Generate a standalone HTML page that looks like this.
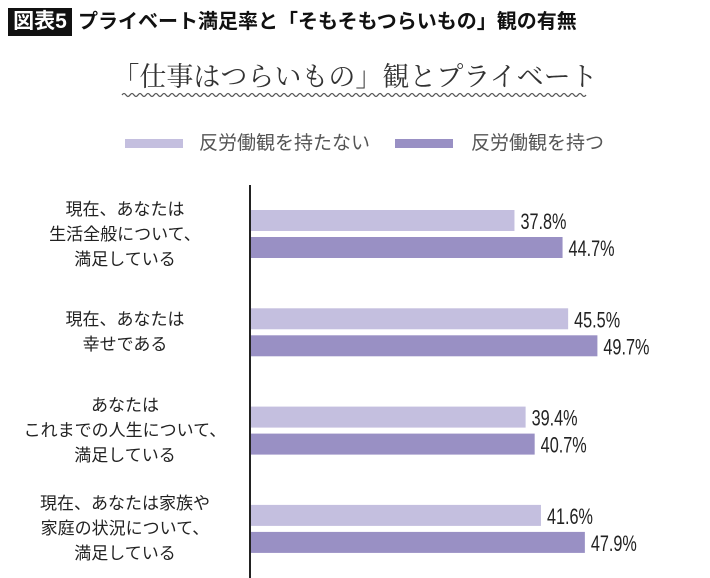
<!DOCTYPE html>
<html><head><meta charset="utf-8"><style>
body{margin:0;background:#fff;width:710px;height:578px;overflow:hidden;position:relative;font-family:"Liberation Sans","Noto Sans CJK JP",sans-serif}
.abs{position:absolute;white-space:nowrap}
</style></head><body>
<div class="abs" style="left:8px;top:8px;width:64px;height:28px;background:#111;color:#fff;font-size:21px;font-weight:bold;line-height:28px;text-align:center">図表5</div>
<div class="abs" style="left:78px;top:8px;font-size:20px;font-weight:bold;line-height:28px;color:#111">プライベート満足率と「そもそもつらいもの」観の有無</div>
<div class="abs" style="left:0;width:710px;top:57px;text-align:center;font-family:'Liberation Serif','Noto Serif CJK SC',serif;font-size:27px;color:#333;line-height:40px">「仕事はつらいもの」観とプライベート</div>
<svg class="abs" style="left:0;top:0" width="710" height="578">
<path id="wave" fill="none" stroke="#555" stroke-width="1.2"/>
<line x1="250" y1="185" x2="250" y2="578" stroke="#222" stroke-width="2"/>
<g id="bars"></g>
</svg>
<div class="abs" style="left:125px;top:131px;font-size:19px;color:#555;line-height:26px"><span style="display:inline-block;width:58px;height:9px;background:#c4bfdf;vertical-align:middle;margin-right:16px"></span>反労働観を持たない</div>
<div class="abs" style="left:395px;top:131px;font-size:19px;color:#555;line-height:26px"><span style="display:inline-block;width:58px;height:9px;background:#9990c4;vertical-align:middle;margin-right:18px"></span>反労働観を持つ</div>
<div id="labels"></div>
<script>
const categories=["現在、あなたは<br>生活全般について、<br>満足している","現在、あなたは<br>幸せである","あなたは<br>これまでの人生について、<br>満足している","現在、あなたは家族や<br>家庭の状況について、<br>満足している"];
const seriesNo=[37.8,45.5,39.4,41.6];
const seriesYes=[44.7,49.7,40.7,47.9];
const x0=251,sc=6.97,top0=210,step=98.3,bh=21;
const X=v=>x0+v*sc;
let d="M122 95";for(let x=122;x<586;x+=8){d+=` q2 -3 4 0 q2 3 4 0`;}
document.getElementById('wave').setAttribute('d',d);
const g=document.getElementById('bars'),ns="http://www.w3.org/2000/svg",L=document.getElementById('labels');
categories.forEach((c,i)=>{
 const y=top0+i*step;
 [[seriesNo[i],'#c4bfdf',0],[seriesYes[i],'#9990c4',27]].forEach(([v,col,off],k)=>{
  const r=document.createElementNS(ns,'rect');
  
  
  r.setAttribute('x',x0);r.setAttribute('y',y+off);r.setAttribute('width',X(v)-x0);r.setAttribute('height',bh);r.setAttribute('fill',col);
  g.appendChild(r);
  const t=document.createElementNS(ns,'text');
  
  
  t.setAttribute('x',X(v)+6);t.setAttribute('y',y+off+19);
  t.setAttribute('font-size','22');t.setAttribute('fill','#222');
  t.setAttribute('font-family','"Liberation Sans Narrow","Liberation Sans",sans-serif');
  t.setAttribute('textLength','46');t.setAttribute('lengthAdjust','spacingAndGlyphs');
  t.textContent=v.toFixed(1)+'%';g.appendChild(t);
 });
 const n=c.split('<br>').length;
 const div=document.createElement('div');
 
 
 div.className='abs';
 div.style.cssText=`left:0;width:250px;text-align:center;font-size:17px;line-height:25px;color:#222;top:${y+24-n*12.5}px`;
 div.innerHTML=c;L.appendChild(div);
});
</script>
</body></html>
